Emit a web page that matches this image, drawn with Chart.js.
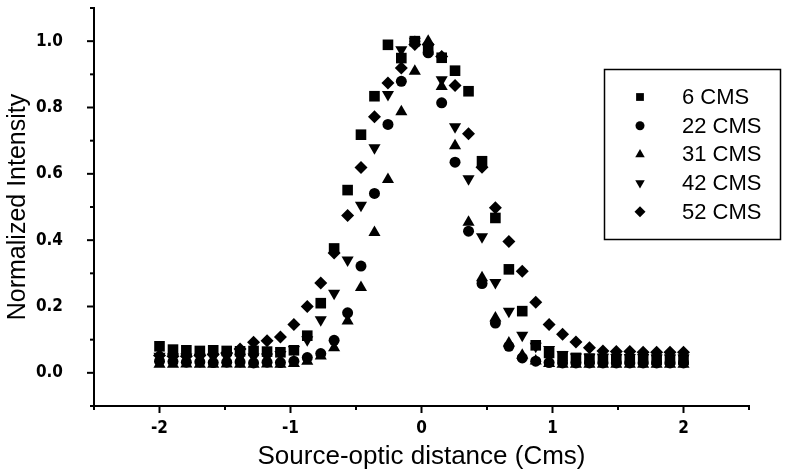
<!DOCTYPE html>
<html>
<head>
<meta charset="utf-8">
<title>Normalized Intensity</title>
<script src="https://cdn.jsdelivr.net/npm/chart.js@4.4.1/dist/chart.umd.min.js"></script>
<style>
    html, body { margin: 0; padding: 0; background: #fff; }
    #wrap { width: 786px; height: 472px; }
</style>
</head>
<body>
<div id="wrap"><canvas id="profileChart" width="786" height="472"></canvas></div>
<script>
// sample positions (cm), 40 points from -2 to 2
const xPos = [-2.000, -1.897, -1.795, -1.692, -1.590, -1.487, -1.385, -1.282, -1.179, -1.077,
              -0.974, -0.872, -0.769, -0.667, -0.564, -0.462, -0.359, -0.256, -0.154, -0.051,
               0.051,  0.154,  0.256,  0.359,  0.462,  0.564,  0.667,  0.769,  0.872,  0.974,
               1.077,  1.179,  1.282,  1.385,  1.487,  1.590,  1.692,  1.795,  1.897,  2.000];

const cms6 = [0.080, 0.070, 0.068, 0.066, 0.068, 0.066, 0.065, 0.066, 0.064, 0.062,
              0.068, 0.112, 0.210, 0.375, 0.551, 0.718, 0.834, 0.989, 0.949, 1.000,
              0.974, 0.950, 0.911, 0.849, 0.638, 0.467, 0.312, 0.186, 0.083, 0.060,
              0.050, 0.045, 0.043, 0.042, 0.042, 0.041, 0.041, 0.040, 0.040, 0.040];
const cms22 = [0.035, 0.034, 0.032, 0.033, 0.031, 0.032, 0.033, 0.030, 0.032, 0.031,
               0.035, 0.046, 0.058, 0.098, 0.181, 0.322, 0.541, 0.749, 0.879, 1.000,
               0.965, 0.814, 0.635, 0.427, 0.269, 0.150, 0.080, 0.045, 0.035, 0.031,
               0.030, 0.030, 0.030, 0.030, 0.030, 0.030, 0.030, 0.030, 0.030, 0.030];
const cms31 = [0.026, 0.026, 0.027, 0.026, 0.026, 0.027, 0.026, 0.026, 0.027, 0.026,
               0.028, 0.035, 0.051, 0.076, 0.156, 0.257, 0.423, 0.583, 0.787, 0.909,
               1.000, 0.863, 0.685, 0.454, 0.287, 0.165, 0.090, 0.053, 0.036, 0.028,
               0.026, 0.026, 0.026, 0.026, 0.026, 0.026, 0.026, 0.026, 0.026, 0.026];
const cms42 = [0.050, 0.048, 0.048, 0.047, 0.048, 0.048, 0.047, 0.048, 0.048, 0.055,
               0.070, 0.100, 0.160, 0.240, 0.340, 0.505, 0.679, 0.839, 0.974, 1.000,
               0.980, 0.884, 0.742, 0.585, 0.410, 0.272, 0.186, 0.113, 0.080, 0.070,
               0.055, 0.048, 0.047, 0.047, 0.046, 0.046, 0.046, 0.045, 0.045, 0.045];
const cms52 = [0.052, 0.050, 0.050, 0.052, 0.055, 0.060, 0.072, 0.092, 0.097, 0.108,
               0.146, 0.200, 0.271, 0.361, 0.474, 0.619, 0.772, 0.874, 0.919, 0.990,
               0.990, 0.954, 0.866, 0.721, 0.620, 0.498, 0.396, 0.306, 0.213, 0.146,
               0.116, 0.093, 0.076, 0.066, 0.064, 0.064, 0.062, 0.062, 0.062, 0.062];

const seriesLabels = ['6 CMS', '22 CMS', '31 CMS', '42 CMS', '52 CMS'];
const xTickLabels = ['-2', '-1', '0', '1', '2'];
const yTickLabels = ['0.0', '0.2', '0.4', '0.6', '0.8', '1.0'];

const FONT = '"Liberation Sans", Arial, Helvetica, sans-serif';
const TICK_FONT = '"Liberation Sans Narrow", "DejaVu Sans Condensed", "Liberation Sans", Arial, sans-serif';

const toPoints = (ys) => ys.map((y, i) => ({ x: xPos[i], y: y }));

// marker look for each series
const markers = [
    { pointStyle: 'rect', pointRadius: 7.5, pointRotation: 0 },
    { pointStyle: 'circle', pointRadius: 5.5, pointRotation: 0 },
    { pointStyle: 'triangle', pointRadius: 7, pointRotation: 0 },
    { pointStyle: 'triangle', pointRadius: 7, pointRotation: 180 },
    { pointStyle: 'rectRot', pointRadius: 6.5, pointRotation: 0 }
];

const allSeries = [cms6, cms22, cms31, cms42, cms52];

const datasets = allSeries.map((ys, i) => ({
    label: seriesLabels[i],
    data: toPoints(ys),
    showLine: false,
    pointStyle: markers[i].pointStyle,
    pointRadius: markers[i].pointRadius,
    pointHoverRadius: markers[i].pointRadius,
    pointRotation: markers[i].pointRotation,
    pointBackgroundColor: '#000',
    pointBorderColor: '#000',
    pointBorderWidth: 0
}));

// major + minor tick marks drawn outside the axes
const axisTicks = {
    id: 'axisTicks',
    afterDraw(chart) {
        const ctx = chart.ctx;
        const xs = chart.scales.x, ys = chart.scales.y;
        const area = chart.chartArea;
        ctx.save();
        ctx.strokeStyle = '#000';
        ctx.lineWidth = 2;
        xs.ticks.forEach(t => {
            const px = xs.getPixelForValue(t.value);
            const major = Math.abs(t.value - Math.round(t.value)) < 1e-6;
            ctx.beginPath();
            ctx.moveTo(px, area.bottom);
            ctx.lineTo(px, area.bottom + (major ? 7 : 4));
            ctx.stroke();
        });
        ys.ticks.forEach(t => {
            const py = ys.getPixelForValue(t.value);
            const major = Math.round(t.value * 10) % 2 === 0;
            ctx.beginPath();
            ctx.moveTo(area.left, py);
            ctx.lineTo(area.left - (major ? 7 : 4), py);
            ctx.stroke();
        });
        ctx.restore();
    }
};

// framed legend inside the plot
const boxLegend = {
    id: 'boxLegend',
    afterDraw(chart) {
        const ctx = chart.ctx;
        ctx.save();
        ctx.strokeStyle = '#000';
        ctx.lineWidth = 1.5;
        ctx.strokeRect(604.5, 69.5, 176, 170);
        ctx.fillStyle = '#000';
        ctx.font = '22px ' + FONT;
        ctx.textBaseline = 'middle';
        chart.data.datasets.forEach((ds, i) => {
            const y = 97 + i * 28.7;
            Chart.helpers.drawPoint(ctx, {
                pointStyle: ds.pointStyle,
                rotation: ds.pointRotation,
                radius: ds.pointStyle === 'circle' ? 4.5 : 5.5,
                borderWidth: 0
            }, 640, y);
            ctx.fillText(ds.label, 682, y + 1);
        });
        ctx.restore();
    }
};

new Chart(document.getElementById('profileChart'), {
    type: 'scatter',
    data: { datasets: datasets },
    plugins: [axisTicks, boxLegend],
    options: {
        responsive: false,
        animation: false,
        devicePixelRatio: 1,
        layout: { padding: { top: 8, right: 37, bottom: 0, left: 0 } },
        plugins: { legend: { display: false }, tooltip: { enabled: false } },
        scales: {
            x: {
                type: 'linear',
                min: -2.5,
                max: 2.5,
                afterFit: (scale) => {
                    scale.height = 66;
                    scale.paddingLeft = 0;
                    scale.paddingRight = 0;
                },
                grid: { display: false, drawTicks: false },
                border: { display: true, color: '#000', width: 2 },
                ticks: {
                    stepSize: 0.5,
                    autoSkip: false,
                    maxRotation: 0,
                    padding: 12,
                    color: '#000',
                    font: { family: TICK_FONT, size: 17, weight: 'bold' },
                    callback: (v) => {
                        const s = String(Math.round(v * 10) / 10);
                        return xTickLabels.includes(s) ? s : '';
                    }
                },
                title: {
                    display: true,
                    text: 'Source-optic distance (Cms)',
                    color: '#000',
                    font: { family: FONT, size: 26 },
                    padding: { top: 0, bottom: 0 }
                }
            },
            y: {
                type: 'linear',
                min: -0.1,
                max: 1.1,
                afterFit: (scale) => {
                    scale.width = 94;
                    scale.paddingTop = 0;
                    scale.paddingBottom = 0;
                },
                grid: { display: false, drawTicks: false },
                border: { display: true, color: '#000', width: 2 },
                ticks: {
                    stepSize: 0.1,
                    autoSkip: false,
                    padding: 31,
                    color: '#000',
                    font: { family: TICK_FONT, size: 17, weight: 'bold' },
                    callback: (v) => {
                        const s = (Math.round(v * 10) / 10).toFixed(1);
                        return yTickLabels.includes(s) ? s : '';
                    }
                },
                title: {
                    display: true,
                    text: 'Normalized Intensity',
                    color: '#000',
                    font: { family: FONT, size: 25 },
                    padding: { top: 3, bottom: 0 }
                }
            }
        }
    }
});
</script>
</body>
</html>
